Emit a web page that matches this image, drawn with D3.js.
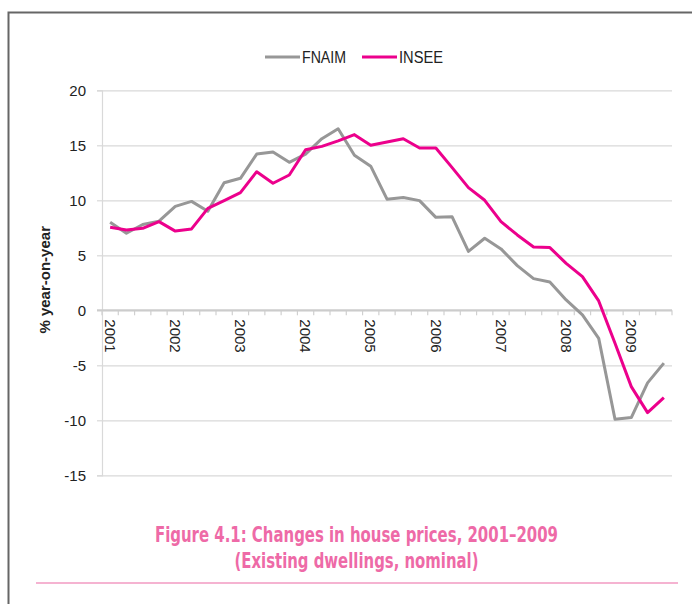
<!DOCTYPE html>
<html>
<head>
<meta charset="utf-8">
<script src="https://cdn.jsdelivr.net/npm/d3@7"></script>
<style>
  body { margin: 0; background: #fff; }
  svg { display: block; }
  .tick text { font-family: "Liberation Sans", Arial, sans-serif; }
</style>
</head>
<body>
<div id="chart"></div>
<script>
// quarters 2001 Q1 .. 2009 Q3
var quarters = [];
var years = ["2001", "2002", "2003", "2004", "2005", "2006", "2007", "2008", "2009"];
years.forEach(function (y) {
  ["Q1", "Q2", "Q3", "Q4"].forEach(function (q) { quarters.push(y + q); });
});
quarters = quarters.slice(0, 35);

var fnaim = [8.0, 7.0, 7.8, 8.1, 9.45, 9.9, 9.0, 11.6, 12.0, 14.2, 14.4, 13.45,
  14.2, 15.6, 16.5, 14.1, 13.1, 10.1, 10.25, 9.97, 8.45, 8.5, 5.36, 6.55,
  5.58, 4.06, 2.88, 2.58, 0.94, -0.42, -2.55, -9.9, -9.75, -6.6, -4.8];

var insee = [7.55, 7.3, 7.45, 8.06, 7.2, 7.4, 9.27, 9.97, 10.7, 12.6, 11.55, 12.3,
  14.6, 14.9, 15.4, 15.97, 15.0, 15.3, 15.6, 14.75, 14.75, 12.97, 11.15, 10.0,
  8.06, 6.85, 5.76, 5.7, 4.27, 3.06, 0.85, -3.0, -6.94, -9.3, -7.94];

var yTicks = [-15, -10, -5, 0, 5, 10, 15, 20];

var series = [
  { name: "FNAIM", values: fnaim, color: "#979797" },
  { name: "INSEE", values: insee, color: "#ec008c" }
];

var width = 692, height = 604;
var margin = { top: 90.3, right: 20, bottom: 128.7, left: 102 };

var svg = d3.select("#chart").append("svg")
  .attr("width", width)
  .attr("height", height);

// frame (only top and left edges visible)
svg.append("path")
  .attr("d", "M8.5,700V12.5H700")
  .attr("fill", "none")
  .attr("stroke", "#666")
  .attr("stroke-width", 2);

var x = d3.scaleBand()
  .domain(quarters)
  .range([margin.left, 672]);

var y = d3.scaleLinear()
  .domain([-15, 20])
  .range([height - margin.bottom, margin.top]);

// gridlines
var y_grid = d3.axisLeft(y).tickValues(yTicks).tickSize(-(672 - margin.left)).tickFormat("");
svg.append("g")
  .attr("transform", `translate(${margin.left},0)`)
  .call(y_grid)
  .call(function (g) {
    g.select(".domain").remove();
    g.selectAll("line").attr("stroke", "#d9d9d9").attr("stroke-width", 1.2);
  });

// y axis with outside ticks (plain hyphen for negatives)
var y_axis = d3.axisLeft(y).tickValues(yTicks).tickSize(5).tickPadding(11)
  .tickFormat(function (d) { return String(d); });
svg.append("g")
  .attr("transform", `translate(${margin.left},0)`)
  .call(y_axis)
  .call(function (g) {
    g.select(".domain").attr("stroke", "#d9d9d9").attr("stroke-width", 1.2);
    g.selectAll("line").attr("stroke", "#d9d9d9").attr("stroke-width", 1.2);
    g.selectAll("text").attr("font-size", 15).attr("fill", "#222");
  });

// category axis at zero, ticks between categories
var boundaries = quarters.map(function (q) { return x(q); }).concat([672]);
var xg = svg.append("g");
xg.selectAll("line.tk")
  .data(boundaries)
  .enter().append("line")
  .attr("x1", function (d) { return d; })
  .attr("x2", function (d) { return d; })
  .attr("y1", y(0))
  .attr("y2", y(0) + 5)
  .attr("stroke", "#d0d0d0")
  .attr("stroke-width", 1.2);
xg.append("line")
  .attr("x1", margin.left - 5)
  .attr("x2", 672)
  .attr("y1", y(0))
  .attr("y2", y(0))
  .attr("stroke", "#cccccc")
  .attr("stroke-width", 2);

xg.selectAll("text")
  .data(years)
  .enter().append("text")
  .attr("transform", function (d) {
    var cx = x(d + "Q1") + x.bandwidth() / 2;
    return `translate(${cx},${y(0) + 9}) rotate(90)`;
  })
  .attr("dy", "0.35em")
  .attr("font-family", "Liberation Sans, Arial, sans-serif")
  .attr("font-size", 15)
  .attr("fill", "#222")
  .text(function (d) { return d; });

// lines
var line = d3.line()
  .x(function (d, i) { return x(quarters[i]) + x.bandwidth() / 2; })
  .y(function (d) { return y(d); });

series.forEach(function (s) {
  svg.append("path")
    .datum(s.values)
    .attr("fill", "none")
    .attr("stroke", s.color)
    .attr("stroke-width", 3)
    .attr("stroke-linejoin", "round")
    .attr("d", line);
});

// y axis title
svg.append("text")
  .attr("transform", `translate(50,${(y(20) + y(-15)) / 2 - 3}) rotate(-90)`)
  .attr("text-anchor", "middle")
  .attr("font-family", "Liberation Sans, Arial, sans-serif")
  .attr("font-weight", "bold")
  .attr("font-size", 15)
  .attr("fill", "#222")
  .text("% year-on-year");

// legend
var legendX = [265, 362];
var legend = svg.append("g");
series.forEach(function (s, i) {
  legend.append("line")
    .attr("x1", legendX[i])
    .attr("x2", legendX[i] + 35)
    .attr("y1", 57)
    .attr("y2", 57)
    .attr("stroke", s.color)
    .attr("stroke-width", 3);
  legend.append("text")
    .attr("x", legendX[i] + 37)
    .attr("y", 57)
    .attr("dy", "0.36em")
    .attr("font-family", "Liberation Sans Narrow, Arial Narrow, Liberation Sans, sans-serif")
    .attr("font-size", 16)
    .attr("fill", "#222")
    .attr("textLength", 44)
    .attr("lengthAdjust", "spacingAndGlyphs")
    .text(s.name);
});

// caption
var caption = ["Figure 4.1: Changes in house prices, 2001\u20132009", "(Existing dwellings, nominal)"];
var captionW = [403, 244];
caption.forEach(function (c, i) {
  svg.append("text")
    .attr("x", 356.5)
    .attr("y", 542 + i * 26)
    .attr("text-anchor", "middle")
    .attr("font-family", "Liberation Sans Narrow, Arial Narrow, DejaVu Sans Condensed, sans-serif")
    .attr("font-weight", "bold")
    .attr("font-size", 21.5)
    .attr("fill", "#ee6aa7")
    .attr("textLength", captionW[i])
    .attr("lengthAdjust", "spacingAndGlyphs")
    .text(c);
});

svg.append("line")
  .attr("x1", 36)
  .attr("x2", 678)
  .attr("y1", 583)
  .attr("y2", 583)
  .attr("stroke", "#f29ac2")
  .attr("stroke-width", 1.5);
</script>
</body>
</html>
